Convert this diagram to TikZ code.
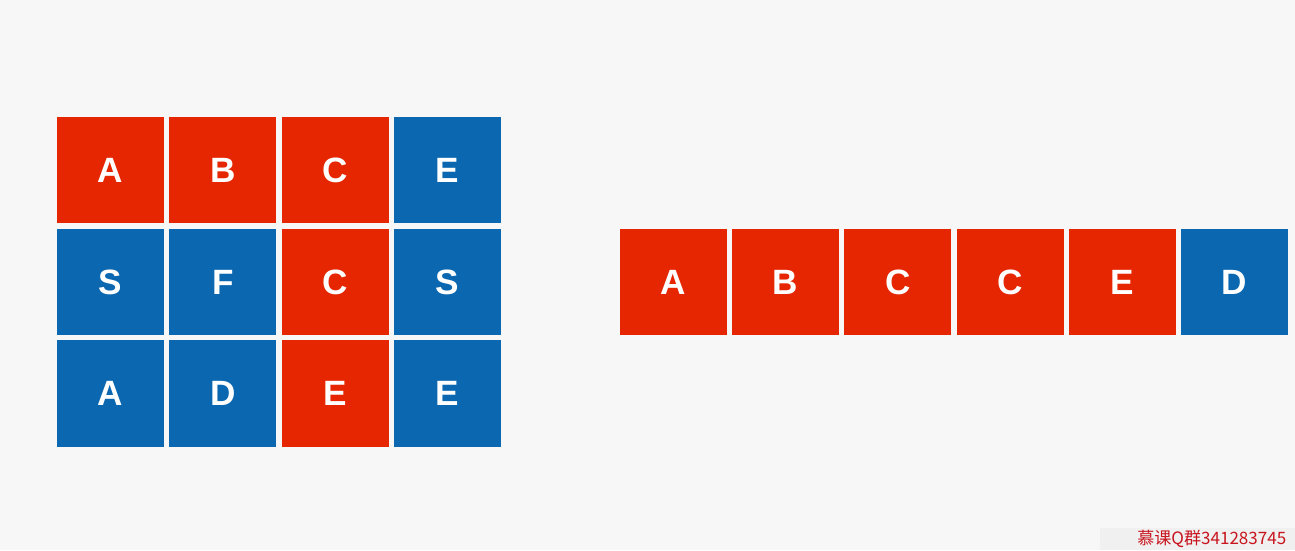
\documentclass[tikz,border=0pt]{standalone}
\usepackage{fontspec}
\setmainfont{Liberation Sans}
\newfontfamily\cjkfont{Noto Sans CJK SC}
\usepackage{tikz}
\usetikzlibrary{positioning}
\definecolor{gridred}{HTML}{E52600}
\definecolor{gridblue}{HTML}{0A67B0}
\definecolor{paper}{HTML}{F7F7F7}
\definecolor{markred}{HTML}{C8141E}

\begin{document}
\begin{tikzpicture}[
    node distance=0.105cm,
    cell/.style={rectangle, minimum width=2.14cm, minimum height=2.13cm, inner sep=0pt, outer sep=0pt, text=white, font=\bfseries\fontsize{20}{24}\selectfont},
    redcell/.style={cell, fill=gridred},
    bluecell/.style={cell, fill=gridblue},
    qqtag/.style={inner sep=0pt, text=markred, font=\cjkfont\fontsize{9.7}{11}\selectfont}
]

\fill[paper] (0,0) rectangle (25.9,11);
\useasboundingbox (0,0) rectangle (25.9,11);

\node[redcell] (g11) at (2.21,7.595) {A};
\node[redcell, right=of g11] (g12) {B};
\node[redcell, right=of g12] (g13) {C};
\node[bluecell, right=of g13] (g14) {E};

\node[bluecell, below=of g11] (g21) {S};
\node[bluecell, right=of g21] (g22) {F};
\node[redcell, right=of g22] (g23) {C};
\node[bluecell, right=of g23] (g24) {S};

\node[bluecell, below=of g21] (g31) {A};
\node[bluecell, right=of g31] (g32) {D};
\node[redcell, right=of g32] (g33) {E};
\node[bluecell, right=of g33] (g34) {E};

\node[redcell, right=2.38cm of g24] (s1) {A};
\node[redcell, right=of s1] (s2) {B};
\node[redcell, right=of s2] (s3) {C};
\node[redcell, right=of s3] (s4) {C};
\node[redcell, right=of s4] (s5) {E};
\node[bluecell, right=of s5] (s6) {D};

\fill[black!6] (22.0,0) rectangle (25.9,0.44);
\node[qqtag, anchor=south west] (qq) at (22.74,0.05) {慕课Q群341283745};
\end{tikzpicture}
\end{document}
